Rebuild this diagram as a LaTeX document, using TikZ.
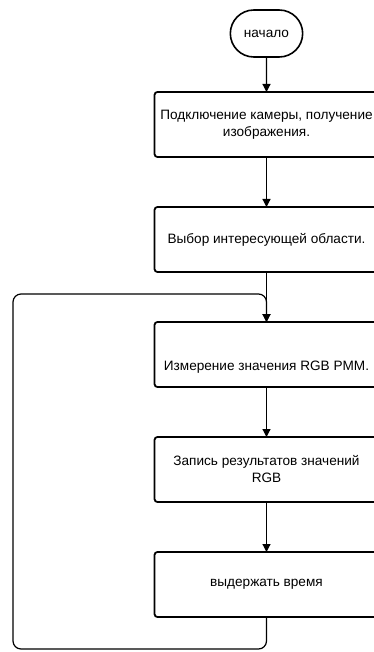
\documentclass[tikz,border=0pt]{standalone}
\usepackage{fontspec}
\setmainfont{Liberation Sans}
\usetikzlibrary{arrows.meta,positioning,shapes.misc}

\begin{document}
\begin{tikzpicture}[x=1pt,y=1pt,node distance=50pt,
  term/.style={draw,line width=1.6pt,outer sep=0pt,rounded rectangle,minimum width=79pt,minimum height=47pt,font=\fontsize{13.6}{17}\selectfont},
  box/.style={draw,line width=1.8pt,outer sep=0pt,rounded corners=3pt,minimum width=224pt,minimum height=65pt,align=center,inner sep=2pt,font=\fontsize{13.6}{17}\selectfont},
  arr/.style={-{Triangle[length=8pt,width=8pt]},line width=1.2pt},
  back/.style={line width=1.2pt,rounded corners=8pt}]
\useasboundingbox (0,0) rectangle (373,-652);
\node[term] (start) at (266.5,-33.5) {начало};
\node[box,below=35pt of start] (cam) {Подключение камеры, получение\\изображения.};
\node[box,below=of cam] (roi) {Выбор интересующей области.};
\node[box,below=of roi] (meas) {\raisebox{-16pt}[0pt][0pt]{Измерение значения RGB PMM.}};
\node[box,below=of meas] (rec) {Запись результатов значений\\RGB};
\node[box,below=of rec] (wait) {выдержать время};
\coordinate (join) at ([yshift=28pt]meas.north);
\coordinate (low) at ([yshift=-32pt]wait.south);
\coordinate (edge) at ([xshift=-253.5pt]join);
\draw[arr] (start)--(cam); \draw[arr] (cam)--(roi); \draw[arr] (roi)--(meas); \draw[arr] (meas)--(rec); \draw[arr] (rec)--(wait);
\draw[back,arr] (wait.south) -- (low) -| (edge) -- (join) -- (meas.north);
\end{tikzpicture}
\end{document}
